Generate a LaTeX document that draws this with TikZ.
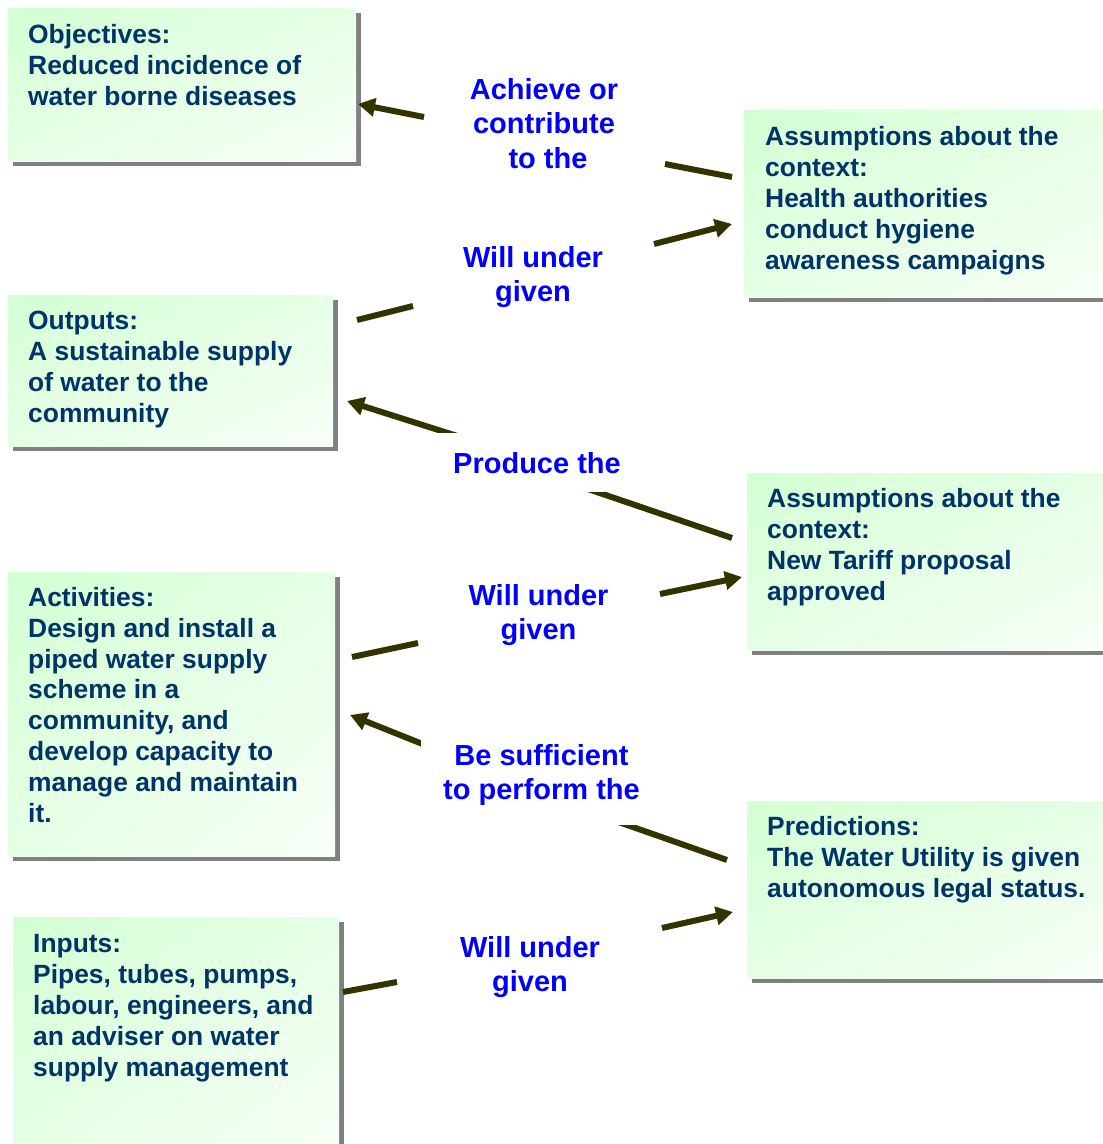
\documentclass[tikz,border=0pt]{standalone}
\usepackage{fontspec}
\setmainfont{Liberation Sans}
\usetikzlibrary{arrows.meta,shadows}
\definecolor{boxgreen}{RGB}{204,255,204}
\definecolor{boxtext}{RGB}{0,51,102}
\definecolor{linkblue}{RGB}{0,0,255}
\definecolor{linkline}{RGB}{51,51,0}
% light green in the upper left corner fading to white in the lower right one
\pgfdeclareverticalshading{cardshading}{100bp}{color(0bp)=(white); color(100bp)=(boxgreen)}
% diagonal fill of a box: x, y of its upper left corner, width, height
\newcommand\cardfill[4]{%
  \shade[transform canvas={shift={(#1,#2)},xscale=#3/100,yscale=#4/100},
    shading=cardshading, shading angle=45] (0,0) rectangle (100,100);}

\begin{document}
\begin{tikzpicture}[x=1pt,y=-1pt,
  card/.style={rectangle, draw=none, fill=white, inner sep=0pt, anchor=north west,
    drop shadow={shadow xshift=5pt, shadow yshift=-5pt, fill=black!50, opacity=1}},
  % multi-line nodes are placed by the baseline of their last line
  cardtext/.style={anchor=base west, align=left, inner sep=0pt, text=boxtext,
    font=\fontsize{26.4}{31}\selectfont\bfseries},
  linktext/.style={anchor=base, align=center, inner xsep=22pt, inner ysep=19pt,
    fill=white, text=linkblue, font=\fontsize{29}{34.5}\selectfont\bfseries},
  link/.style={draw=linkline, line width=6pt},
  leadarrow/.style={link, -{Triangle[length=17pt,width=18pt]}}
]
\clip (0,0) rectangle (1103,1144);

% boxes of the logical framework
\node[card, minimum width=348pt, minimum height=153pt] (obj) at (8,8) {};
\cardfill{8}{8}{348}{153}
\node[card, minimum width=366pt, minimum height=187pt] (asm1) at (744,110) {};
\cardfill{744}{110}{366}{187}
\node[card, minimum width=325pt, minimum height=151pt] (out) at (8,295) {};
\cardfill{8}{295}{325}{151}
\node[card, minimum width=363pt, minimum height=177pt] (asm2) at (747,473) {};
\cardfill{747}{473}{363}{177}
\node[card, minimum width=327pt, minimum height=284pt] (act) at (8,572) {};
\cardfill{8}{572}{327}{284}
\node[card, minimum width=363pt, minimum height=177pt] (pred) at (747,801) {};
\cardfill{747}{801}{363}{177}
\node[card, minimum width=326pt, minimum height=240pt] (inp) at (13,917) {};
\cardfill{13}{917}{326}{240}

\node[cardtext] (objtxt) at (28,105) {Objectives:\\Reduced incidence of\\water borne diseases};
\node[cardtext] (asm1txt) at (765,269) {Assumptions about the\\context:\\Health authorities\\conduct hygiene\\awareness campaigns};
\node[cardtext] (outtxt) at (28,422.5) {Outputs:\\A sustainable supply\\of water to the\\community};
\node[cardtext] (asm2txt) at (767,600.5) {Assumptions about the\\context:\\New Tariff proposal\\approved};
\node[cardtext, font=\fontsize{26.4}{30.8}\selectfont\bfseries] (acttxt) at (28,822) {Activities:\\Design and install a\\piped water supply\\scheme in a\\community, and\\develop capacity to\\manage and maintain\\it.};
\node[cardtext] (predtxt) at (767,897.5) {Predictions:\\The Water Utility is given\\autonomous legal status.};
\node[cardtext] (inptxt) at (33,1076.5) {Inputs:\\Pipes, tubes, pumps,\\labour, engineers, and\\an adviser on water\\supply management};

% end points of the connector segments
\coordinate (a1s) at (424,117);  \coordinate (a1e) at (358,104);
\coordinate (a2s) at (732,177);  \coordinate (a2e) at (665,164);
\coordinate (a3s) at (357,320);  \coordinate (a3e) at (413,306);
\coordinate (a4s) at (654,244);  \coordinate (a4e) at (732,224);
\coordinate (b1s) at (473,441);  \coordinate (b1e) at (347,401);
\coordinate (b2s) at (732,538);  \coordinate (b2e) at (585,488);
\coordinate (b3s) at (352,657);  \coordinate (b3e) at (418,643);
\coordinate (b4s) at (660,594);  \coordinate (b4e) at (742,577);
\coordinate (c1s) at (440,751);  \coordinate (c1e) at (350,715);
\coordinate (c2s) at (727,860);  \coordinate (c2e) at (610,819);
\coordinate (c3s) at (343,992);  \coordinate (c3e) at (397,982);
\coordinate (c4s) at (662,928);  \coordinate (c4e) at (733,912);

\draw[leadarrow] (a1s) -- (a1e);
\draw[link] (a2s) -- (a2e);
\draw[link] (a3s) -- (a3e);
\draw[leadarrow] (a4s) -- (a4e);
\draw[leadarrow] (b1s) -- (b1e);
\draw[link] (b2s) -- (b2e);
\draw[link] (b3s) -- (b3e);
\draw[leadarrow] (b4s) -- (b4e);
\draw[leadarrow] (c1s) -- (c1e);
\draw[link] (c2s) -- (c2e);
\draw[link] (c3s) -- (c3e);
\draw[leadarrow] (c4s) -- (c4e);

% relation labels
\node[linktext] (l1) at (544,168) {Achieve or\\contribute\\\hspace*{8pt}to the};
\node[linktext] (l2) at (533,301.5) {Will under\\given};
\node[linktext] (l3) at (537,473) {Produce the};
\node[linktext] (l4) at (538.5,639.5) {Will under\\given};
\node[linktext] (l5) at (541.5,799.5) {Be sufficient\\to perform the};
\node[linktext] (l6) at (530,991.5) {Will under\\given};
\end{tikzpicture}
\end{document}
